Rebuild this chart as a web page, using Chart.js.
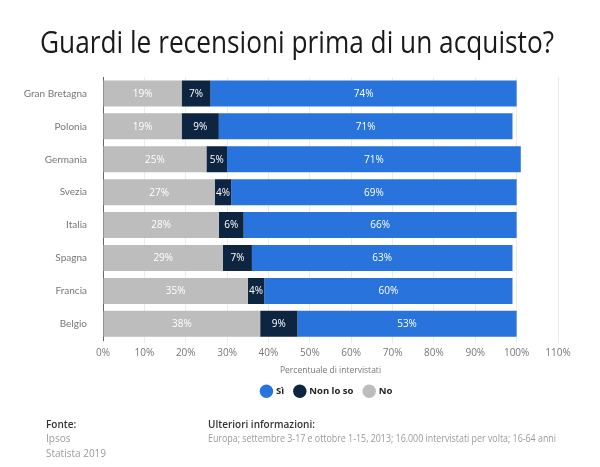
<!DOCTYPE html>
<html>
<head>
<meta charset="utf-8">
<script src="https://cdn.jsdelivr.net/npm/chart.js@4.4.0/dist/chart.umd.min.js"></script>
<style>
  html, body { margin: 0; padding: 0; background: #fff; }
  #wrap { position: relative; width: 600px; height: 467px; overflow: hidden; }
  #chart { position: absolute; left: 0; top: 0; }
  .txt { position: absolute; white-space: nowrap; font-family: "Open Sans", sans-serif; transform-origin: 0 0; }
  #title { left: 40px; top: 20px; font-size: 31px; color: #1a1a1a; }
  .lbl { font-size: 10px; color: #333; font-weight: 600; }
  .val { font-size: 10px; color: #9a9a9a; }
</style>
</head>
<body>
<div id="wrap">
  <canvas id="chart" width="600" height="467"></canvas>
  <div id="title" class="txt">Guardi le recensioni prima di un acquisto?</div>
  <div class="txt lbl" style="left:46px; top:417px;">Fonte:</div>
  <div class="txt val" style="left:46px; top:431px;">Ipsos</div>
  <div class="txt val" style="left:46px; top:446px;">Statista 2019</div>
  <div class="txt lbl" style="left:208px; top:417px;">Ulteriori informazioni:</div>
  <div id="info" class="txt val" style="left:208px; top:431px;">Europa; settembre 3-17 e ottobre 1-15, 2013; 16.000 intervistati per volta; 16-64 anni</div>
</div>
<script>
// Data
const countries = ['Gran Bretagna', 'Polonia', 'Germania', 'Svezia', 'Italia', 'Spagna', 'Francia', 'Belgio'];
const noValues = [19, 19, 25, 27, 28, 29, 35, 38];
const nonLoSoValues = [7, 9, 5, 4, 6, 7, 4, 9];
const siValues = [74, 71, 71, 69, 66, 63, 60, 53];
const xTicks = [0, 10, 20, 30, 40, 50, 60, 70, 80, 90, 100, 110];

// squeeze text to the width it has in the reference
function fitWidth(id, w) {
    const el = document.getElementById(id);
    const real = el.getBoundingClientRect().width;
    el.style.transform = 'scaleX(' + (w / real) + ')';
}
fitWidth('title', 514);
fitWidth('info', 348);

// white percentage labels in the middle of each segment
const barLabels = {
    id: 'barLabels',
    afterDatasetsDraw(chart) {
        const ctx = chart.ctx;
        ctx.save();
        ctx.font = '10px "Open Sans"';
        ctx.fillStyle = '#ffffff';
        ctx.textAlign = 'center';
        ctx.textBaseline = 'middle';
        chart.data.datasets.forEach((ds, i) => {
            const meta = chart.getDatasetMeta(i);
            meta.data.forEach((bar, j) => {
                const cx = (bar.x + bar.base) / 2;
                ctx.fillText(ds.data[j] + '%', cx, bar.y + 0.5);
            });
        });
        ctx.restore();
    }
};

// the legend sits a bit right of centre in the reference
const legendShift = {
    id: 'legendShift',
    afterLayout(chart) {
        chart.legend.left += 48;
        chart.legend.right += 48;
    }
};

const ctx = document.getElementById('chart').getContext('2d');
const chart = new Chart(ctx, {
    type: 'bar',
    data: {
        labels: countries,
        datasets: [
            { label: 'No', data: noValues, backgroundColor: '#bdbdbd' },
            { label: 'Non lo so', data: nonLoSoValues, backgroundColor: '#0d2541' },
            { label: 'Sì', data: siValues, backgroundColor: '#2874dc' }
        ]
    },
    options: {
        indexAxis: 'y',
        responsive: false,
        animation: false,
        devicePixelRatio: 1,
        datasets: { bar: { barPercentage: 0.79, categoryPercentage: 1 } },
        layout: { padding: { left: 0, right: 42, top: 77, bottom: 61 } },
        scales: {
            x: {
                stacked: true,
                min: 0,
                max: 110,
                afterBuildTicks: scale => { scale.ticks = xTicks.map(v => ({ value: v })); },
                ticks: {
                    color: '#777',
                    font: { family: 'Open Sans', size: 10 },
                    padding: 4,
                    callback: v => v + '%'
                },
                grid: { color: '#ebebeb', tickLength: 3 },
                border: { display: false },
                title: {
                    display: true,
                    text: 'Percentuale di intervistati',
                    color: '#777',
                    font: { family: 'Open Sans', size: 8.5 },
                    padding: { top: 2, bottom: 0 }
                }
            },
            y: {
                stacked: true,
                afterFit: scale => { scale.width = 103; },
                ticks: {
                    color: '#777',
                    font: { family: 'Lato', size: 10 },
                    padding: 8
                },
                grid: { display: false },
                border: { color: '#666', width: 1 }
            }
        },
        plugins: {
            legend: {
                position: 'bottom',
                reverse: true,
                labels: {
                    usePointStyle: true,
                    pointStyle: 'circle',
                    boxWidth: 10,
                    boxHeight: 10,
                    padding: 11,
                    color: '#222',
                    font: { family: 'Open Sans', size: 9.5, weight: 'bold' }
                }
            },
            tooltip: { enabled: false }
        }
    },
    plugins: [barLabels, legendShift]
});
</script>
</body>
</html>
